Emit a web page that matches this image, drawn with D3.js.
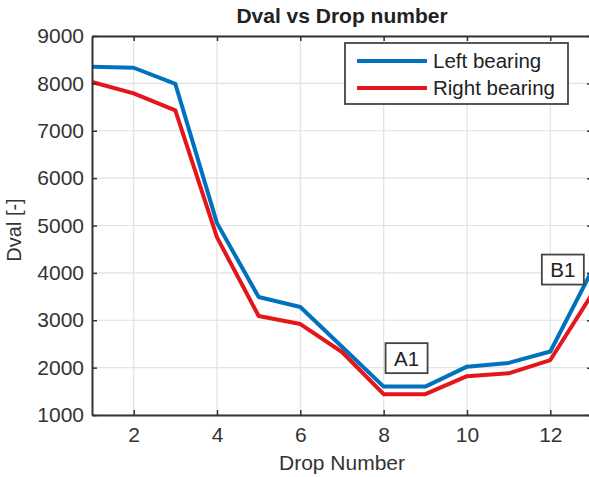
<!DOCTYPE html>
<html>
<head>
<meta charset="utf-8">
<script src="https://cdn.jsdelivr.net/npm/d3@7"></script>
<style>
  body { margin: 0; background: #fff; }
  svg { display: block; font-family: "Liberation Sans", Arial, sans-serif; }
</style>
</head>
<body>
<div id="chart"></div>
<script>
var dropNumber = [1, 2, 3, 4, 5, 6, 7, 8, 9, 10, 11, 12, 13];
var leftBearing = [8350, 8330, 7990, 5050, 3490, 3280, 2440, 1600, 1600, 2020, 2100, 2340, 4050];
var rightBearing = [8030, 7790, 7430, 4750, 3090, 2920, 2330, 1440, 1440, 1820, 1880, 2160, 3550];
var xTicks = [2, 4, 6, 8, 10, 12];
var yTicks = [1000, 2000, 3000, 4000, 5000, 6000, 7000, 8000, 9000];
var seriesNames = ["Left bearing", "Right bearing"];
var seriesColors = ["#0072BD", "#E4161B"];
var notes = [{label: "A1", x: 8.55, y: 2200}, {label: "B1", x: 12.3, y: 4070}];

var width = 589, height = 477;
var margin = {top: 36, right: -3, bottom: 62, left: 92};

var svg = d3.select("#chart").append("svg")
    .attr("width", width)
    .attr("height", height);

var x = d3.scaleLinear().domain([1, 13]).range([margin.left, width - margin.right]);
var y = d3.scaleLinear().domain([1000, 9000]).range([height - margin.bottom, margin.top]);

// grid
svg.append("g").selectAll("line")
    .data(xTicks).enter().append("line")
    .attr("x1", d => x(d)).attr("x2", d => x(d))
    .attr("y1", y(1000)).attr("y2", y(9000))
    .style("stroke", "#e2e2e2").style("stroke-width", 1.2);
svg.append("g").selectAll("line")
    .data(yTicks).enter().append("line")
    .attr("x1", x(1)).attr("x2", x(13))
    .attr("y1", d => y(d)).attr("y2", d => y(d))
    .style("stroke", "#e2e2e2").style("stroke-width", 1.2);

// series
var line = d3.line().x((d, i) => x(dropNumber[i])).y(d => y(d));
[leftBearing, rightBearing].forEach(function(vals, k) {
    svg.append("path")
        .datum(vals)
        .attr("d", line)
        .style("fill", "none")
        .style("stroke", seriesColors[k])
        .style("stroke-width", 4)
        .style("stroke-linejoin", "round");
});

// axes (box with inward ticks)
var tickLen = 5;
svg.append("g")
    .attr("transform", "translate(0," + y(1000) + ")")
    .call(d3.axisBottom(x).tickValues(xTicks).tickSizeInner(-tickLen).tickSizeOuter(0).tickPadding(12))
    .call(g => g.selectAll("text").style("font-size", "21px").style("fill", "#333"));
svg.append("g")
    .attr("transform", "translate(0," + y(9000) + ")")
    .call(d3.axisTop(x).tickValues(xTicks).tickSizeInner(-tickLen).tickSizeOuter(0).tickFormat(""));
svg.append("g")
    .attr("transform", "translate(" + x(1) + ",0)")
    .call(d3.axisLeft(y).tickValues(yTicks).tickSizeInner(-tickLen).tickSizeOuter(0).tickPadding(8).tickFormat(d3.format("d")))
    .call(g => g.selectAll("text").style("font-size", "21px").style("fill", "#333"));
svg.append("g")
    .attr("transform", "translate(" + x(13) + ",0)")
    .call(d3.axisRight(y).tickValues(yTicks).tickSizeInner(-tickLen).tickSizeOuter(0).tickFormat(""));
svg.selectAll(".domain").style("stroke", "#333").style("stroke-width", 2);
svg.selectAll(".tick line").style("stroke", "#333").style("stroke-width", 1.5);

// annotations
notes.forEach(function(n) {
    var g = svg.append("g").attr("transform", "translate(" + x(n.x) + "," + y(n.y) + ")");
    g.append("rect")
        .attr("x", -21).attr("y", -15).attr("width", 42).attr("height", 30)
        .style("fill", "#fff").style("stroke", "#444").style("stroke-width", 1.8);
    g.append("text")
        .attr("text-anchor", "middle").attr("dy", "0.36em")
        .style("font-size", "20.5px").style("fill", "#222")
        .text(n.label);
});

// legend
var legend = svg.append("g").attr("transform", "translate(345,43)");
legend.append("rect")
    .attr("width", 223).attr("height", 61)
    .style("fill", "#fff").style("stroke", "#444").style("stroke-width", 1.8);
seriesNames.forEach(function(name, i) {
    var row = legend.append("g").attr("transform", "translate(0," + (18 + i * 27) + ")");
    row.append("line")
        .attr("x1", 12).attr("x2", 82)
        .style("stroke", seriesColors[i]).style("stroke-width", 4);
    row.append("text")
        .attr("x", 88).attr("dy", "0.35em")
        .style("font-size", "20.5px").style("fill", "#222")
        .text(name);
});

// titles
svg.append("text")
    .attr("x", 342).attr("y", 23)
    .attr("text-anchor", "middle")
    .style("font-size", "21px").style("font-weight", "bold").style("fill", "#222")
    .text("Dval vs Drop number");

svg.append("text")
    .attr("x", 342).attr("y", 470)
    .attr("text-anchor", "middle")
    .style("font-size", "21px").style("fill", "#333")
    .text("Drop Number");

svg.append("g")
    .attr("transform", "translate(21,230)")
    .append("text")
    .attr("text-anchor", "middle")
    .attr("transform", "rotate(-90)")
    .style("font-size", "20px").style("fill", "#333")
    .text("Dval [-]");
</script>
</body>
</html>
